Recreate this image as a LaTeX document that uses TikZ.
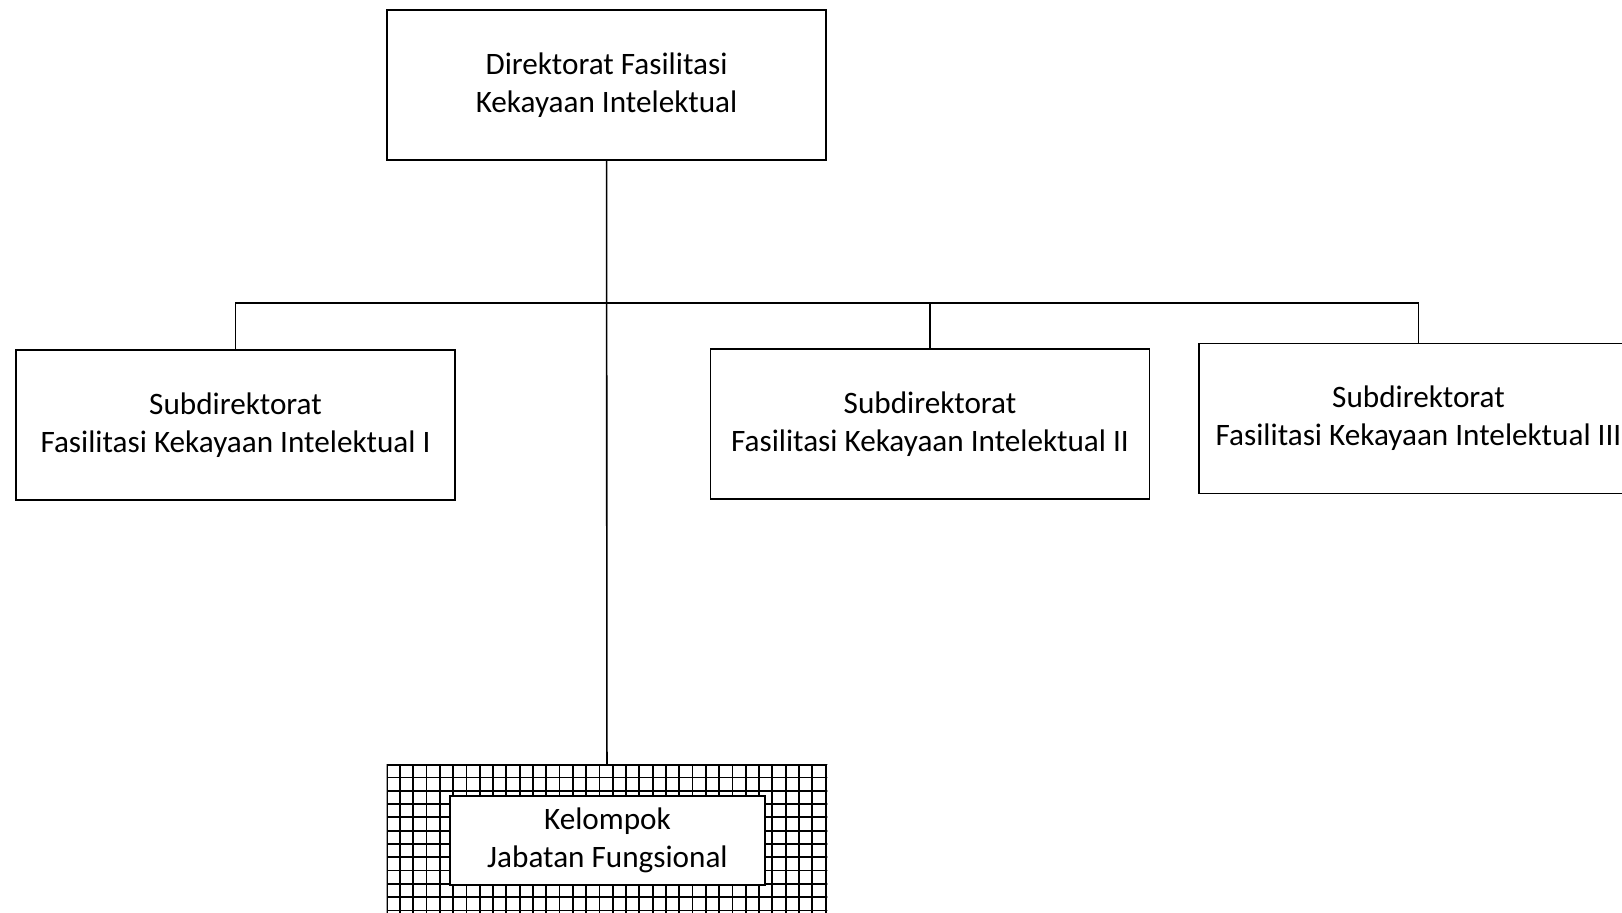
\documentclass[tikz,border=0pt]{standalone}
\usepackage{fontspec}
\setmainfont{Carlito}
\usetikzlibrary{positioning}

\tikzset{
  unit/.style={draw, line width=0.9pt, align=center, fill=white,
    minimum width=219.5pt, minimum height=75pt, inner sep=0pt,
    font=\fontsize{15.6}{19}\selectfont},
  link/.style={line width=0.8pt},
}

\begin{document}
\begin{tikzpicture}[x=0.5pt,y=-0.5pt]
\useasboundingbox (0,0) rectangle (1622,912);
\clip (0,0) rectangle (1622,912);
\node[unit] (dir) at (606.5,85) {Direktorat Fasilitasi\\Kekayaan Intelektual};
\node[unit] (sub1) at (235.5,425) {Subdirektorat\\Fasilitasi Kekayaan Intelektual I};
\node[unit] (sub2) at (930,424) {Subdirektorat\\Fasilitasi Kekayaan Intelektual II};
\node[unit] (sub3) at (1418.5,418.5) {Subdirektorat\\Fasilitasi Kekayaan Intelektual III};
\node[unit] (kjfgrid) at (607,840) {};
\begin{scope}
\clip (kjfgrid.south west) rectangle (kjfgrid.north east);
\begin{scope}[shift={(kjfgrid.north west)}]
\draw[line width=0.9pt, step=6.65pt] (0,-2) grid (442,302);
\end{scope}
\end{scope}
\node[unit, minimum width=157.5pt, minimum height=44.5pt] (kjf) at (607.5,840.5) {Kelompok\\Jabatan Fungsional};
\coordinate (bus) at (606.5,303);
\draw[link] (sub1.north) |- (bus) -| (sub3.north);
\draw[link] (bus) -| (sub2.north);
\draw[link] (dir) -- (kjfgrid);
\end{tikzpicture}
\end{document}
